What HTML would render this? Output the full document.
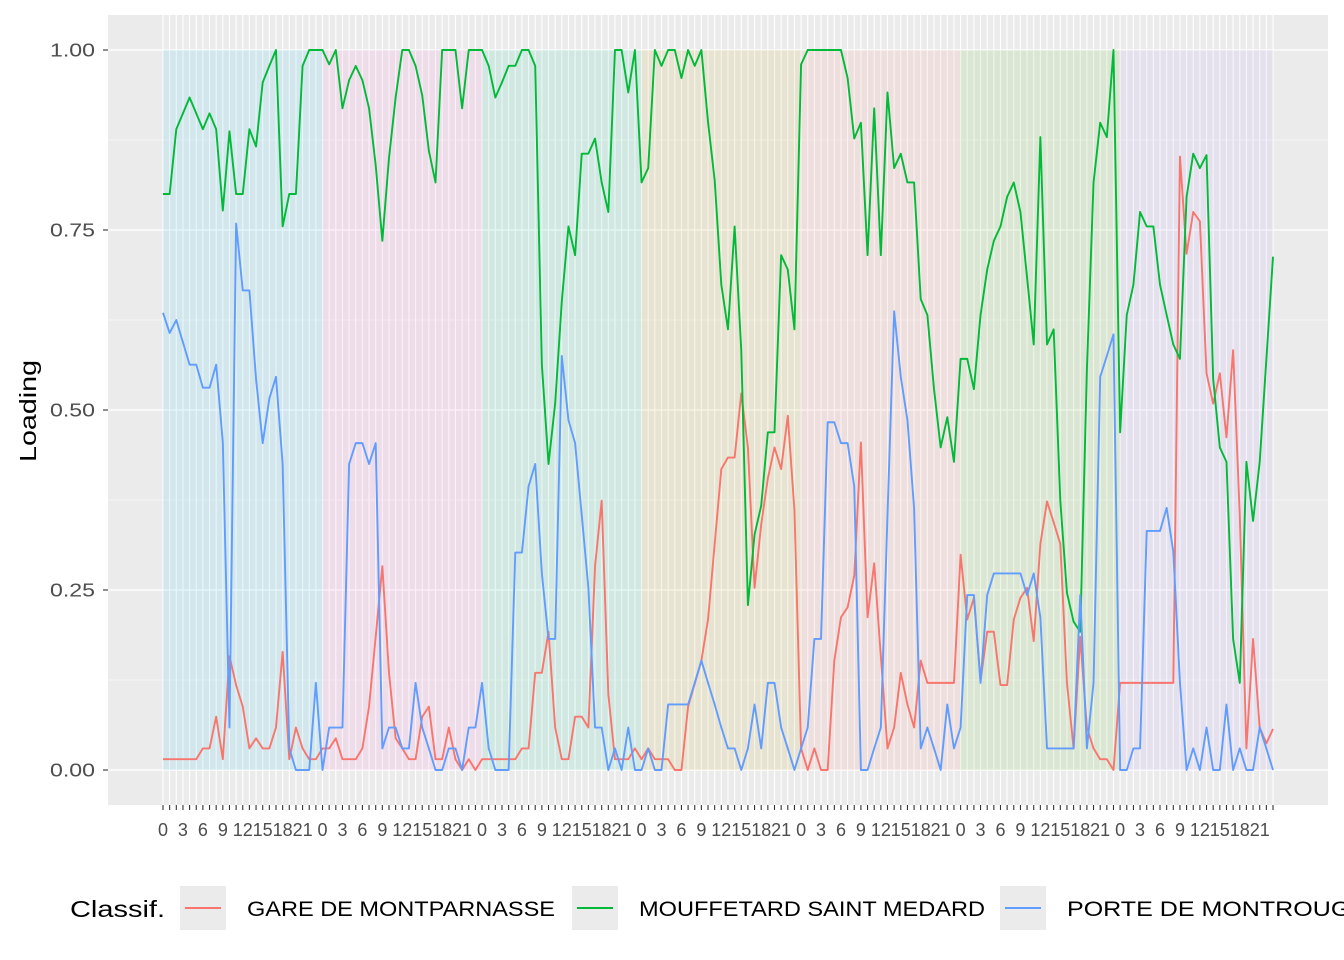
<!DOCTYPE html>
<html><head><meta charset="utf-8"><style>
body{margin:0;background:#fff;}
svg{display:block;font-family:"Liberation Sans",sans-serif;}
</style></head><body>
<svg id="chart" width="1344" height="960"></svg>
<script>
const hours = Array.from({length:168},(_,i)=>i%24);
const dayBandColors = ["#00B6EB","#FB61D7","#00C094","#C49A00","#F8766D","#53B400","#A58AFF"];
const yTicks = [0,0.25,0.5,0.75,1];
const yTickLabels = ["0.00","0.25","0.50","0.75","1.00"];
const seriesNames = ["GARE DE MONTPARNASSE","MOUFFETARD SAINT MEDARD","PORTE DE MONTROUGE"];
const seriesColors = ["#F8766D","#00BA38","#619CFF"];
const gareValues = [0.015,0.015,0.015,0.015,0.015,0.015,0.03,0.03,0.074,0.015,0.158,0.118,0.088,0.03,0.044,0.03,0.03,0.059,0.164,0.015,0.059,0.03,0.015,0.015,
0.03,0.03,0.044,0.015,0.015,0.015,0.03,0.088,0.185,0.283,0.135,0.044,0.03,0.015,0.015,0.074,0.088,0.015,0.015,0.059,0.015,0,0.015,0,
0.015,0.015,0.015,0.015,0.015,0.015,0.03,0.03,0.135,0.135,0.192,0.059,0.015,0.015,0.074,0.074,0.059,0.283,0.374,0.105,0.015,0.015,0.015,0.03,
0.015,0.03,0.015,0.015,0.015,0,0,0.088,0.12,0.152,0.209,0.314,0.418,0.434,0.434,0.523,0.448,0.253,0.341,0.405,0.448,0.418,0.492,0.361,
0.03,0,0.03,0,0,0.152,0.212,0.226,0.27,0.455,0.212,0.287,0.158,0.03,0.059,0.135,0.091,0.059,0.152,0.121,0.121,0.121,0.121,0.121,
0.299,0.209,0.239,0.124,0.192,0.192,0.118,0.118,0.209,0.239,0.253,0.179,0.314,0.373,0.344,0.314,0.121,0.03,0.185,0.059,0.03,0.015,0.015,0,
0.121,0.121,0.121,0.121,0.121,0.121,0.121,0.121,0.121,0.852,0.717,0.775,0.762,0.551,0.509,0.551,0.462,0.583,0.354,0.03,0.182,0.059,0.037,0.057];
const mouffetardValues = [0.80,0.80,0.89,0.912,0.934,0.912,0.89,0.912,0.89,0.777,0.887,0.80,0.80,0.89,0.866,0.955,0.978,1.0,0.755,0.80,0.80,0.978,1.0,1.0,
1.0,0.98,1.0,0.919,0.958,0.978,0.958,0.919,0.84,0.735,0.85,0.934,1.0,1.0,0.978,0.937,0.86,0.816,1.0,1.0,1.0,0.919,1.0,1.0,
1.0,0.978,0.934,0.955,0.978,0.978,1.0,1.0,0.978,0.563,0.425,0.509,0.651,0.755,0.715,0.856,0.856,0.877,0.816,0.775,1.0,1.0,0.941,1.0,
0.816,0.836,1.0,0.978,1.0,1.0,0.961,1.0,0.978,1.0,0.90,0.819,0.674,0.612,0.755,0.583,0.229,0.327,0.367,0.469,0.469,0.715,0.695,0.612,
0.98,1.0,1.0,1.0,1.0,1.0,1.0,0.961,0.877,0.899,0.715,0.919,0.715,0.941,0.836,0.856,0.816,0.816,0.654,0.632,0.529,0.448,0.49,0.428,
0.571,0.571,0.529,0.632,0.695,0.735,0.755,0.796,0.816,0.775,0.684,0.591,0.879,0.591,0.612,0.374,0.246,0.206,0.192,0.556,0.816,0.899,0.879,1.0,
0.469,0.632,0.674,0.775,0.755,0.755,0.674,0.632,0.591,0.571,0.796,0.856,0.836,0.854,0.543,0.448,0.428,0.182,0.121,0.428,0.346,0.428,0.57,0.713];
const montrougeValues = [0.635,0.607,0.625,0.594,0.563,0.563,0.531,0.531,0.563,0.455,0.059,0.759,0.666,0.666,0.543,0.454,0.516,0.546,0.425,0.03,0,0,0,0.121,
0,0.059,0.059,0.059,0.425,0.454,0.454,0.425,0.454,0.03,0.059,0.059,0.03,0.03,0.121,0.059,0.03,0,0,0.03,0.03,0,0.059,0.059,
0.121,0.03,0,0,0,0.302,0.302,0.394,0.425,0.273,0.182,0.182,0.575,0.486,0.454,0.354,0.253,0.059,0.059,0,0.03,0,0.059,0,
0,0.03,0,0,0.091,0.091,0.091,0.091,0.121,0.152,0.121,0.091,0.059,0.03,0.03,0,0.03,0.091,0.03,0.121,0.121,0.059,0.03,0,
0.03,0.059,0.182,0.182,0.483,0.483,0.454,0.454,0.394,0,0,0.03,0.059,0.354,0.637,0.546,0.486,0.364,0.03,0.059,0.03,0,0.091,0.03,
0.059,0.243,0.243,0.121,0.243,0.273,0.273,0.273,0.273,0.273,0.243,0.273,0.212,0.03,0.03,0.03,0.03,0.03,0.243,0.03,0.121,0.546,0.575,0.605,
0,0,0.03,0.03,0.332,0.332,0.332,0.364,0.303,0.121,0,0.03,0,0.059,0,0,0.091,0,0.03,0,0,0.059,0.03,0];
const seriesValues = [gareValues, mouffetardValues, montrougeValues];

const NS="http://www.w3.org/2000/svg";
const svg=document.getElementById('chart');
const P={l:108,r:1328,t:15,b:805};
const x0=163, x1=1273;
const xs=i=>x0+(x1-x0)*i/(hours.length-1);
const ys=v=>770-720*v;
function mk(tag,attrs,parent){const e=document.createElementNS(NS,tag);for(const k in attrs)e.setAttribute(k,attrs[k]);(parent||svg).appendChild(e);return e;}

const panel=mk('rect',{x:P.l,y:P.t,width:P.r-P.l,height:P.b-P.t,fill:'#EBEBEB'});


for(let k=0;k<4;k++){const v=0.125+0.25*k;mk('line',{x1:P.l,x2:P.r,y1:ys(v),y2:ys(v),stroke:'#fff','stroke-width':0.6});}
yTicks.forEach(v=>{const g=mk('line',{x1:P.l,x2:P.r,y1:ys(v),y2:ys(v),stroke:'#fff','stroke-width':1.3});

});
hours.forEach((h,i)=>{mk('line',{x1:xs(i),x2:xs(i),y1:P.t,y2:P.b,stroke:'#fff','stroke-width':1.1});});
dayBandColors.forEach((c,d)=>{const a=d*24,b=Math.min(d*24+24,hours.length-1);
const r=mk('rect',{x:xs(a),y:ys(1),width:xs(b)-xs(a),height:ys(0)-ys(1),fill:c,'fill-opacity':0.1});

});
seriesValues.forEach((vals,s)=>{const d=vals.map((v,i)=>(i?'L':'M')+xs(i).toFixed(2)+','+ys(v).toFixed(2)).join('');
const p=mk('path',{d:d,fill:'none',stroke:seriesColors[s],'stroke-width':1.9,'stroke-linejoin':'round'});

});
yTicks.forEach((v,k)=>{mk('line',{x1:P.l-5,x2:P.l,y1:ys(v),y2:ys(v),stroke:'#333','stroke-width':1.1});
const t=mk('text',{x:P.l-13,y:ys(v)+6.5,'text-anchor':'end','font-size':18,fill:'#4d4d4d',textLength:45,lengthAdjust:'spacingAndGlyphs'});t.textContent=yTickLabels[k];

});
const yt=mk('text',{x:0,y:0,transform:'translate(36,411) rotate(-90)','text-anchor':'middle','font-size':23,fill:'#000',textLength:102,lengthAdjust:'spacingAndGlyphs'});yt.textContent='Loading';


hours.forEach((h,i)=>{mk('line',{x1:xs(i),x2:xs(i),y1:P.b,y2:P.b+5,stroke:'#333','stroke-width':1.1});
if(i%3===0){const t=mk('text',{x:xs(i),y:836,'text-anchor':'middle','font-size':18,fill:'#4d4d4d'});t.textContent=h;

}});
const lt=mk('text',{x:70,y:917,'font-size':23,fill:'#000',textLength:95,lengthAdjust:'spacingAndGlyphs'});lt.textContent='Classif.';


const keyX=[180,572,1000];
const labelW=[308,346,300];
seriesNames.forEach((n,s)=>{const g=mk('g',{});


mk('rect',{x:keyX[s],y:886,width:46,height:44,fill:'#EBEBEB'},g);
mk('line',{x1:keyX[s]+5,x2:keyX[s]+41,y1:908,y2:908,stroke:seriesColors[s],'stroke-width':1.9},g);
const t=mk('text',{x:keyX[s]+67,y:916,'font-size':21,fill:'#000',textLength:labelW[s],lengthAdjust:'spacingAndGlyphs'},g);t.textContent=n;});
</script>
</body></html>
